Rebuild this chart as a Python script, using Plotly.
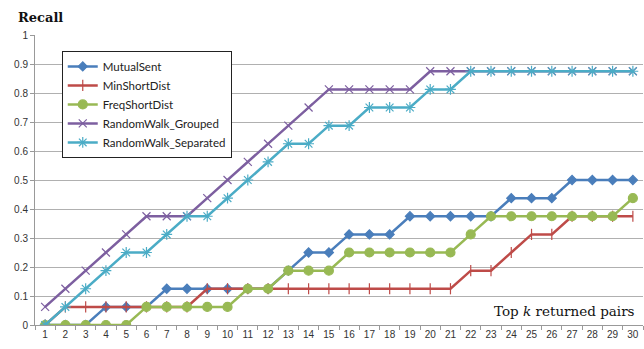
import plotly.graph_objects as go

k_values = list(range(1, 31))
k_labels = [str(k) for k in k_values]

mutual_sent = [0, 0, 0, 0.0625, 0.0625, 0.0625, 0.125, 0.125, 0.125, 0.125,
               0.125, 0.125, 0.1875, 0.25, 0.25, 0.3125, 0.3125, 0.3125, 0.375, 0.375,
               0.375, 0.375, 0.375, 0.4375, 0.4375, 0.4375, 0.5, 0.5, 0.5, 0.5]
min_short_dist = [0, 0.0625, 0.0625, 0.0625, 0.0625, 0.0625, 0.0625, 0.0625, 0.125, 0.125,
                  0.125, 0.125, 0.125, 0.125, 0.125, 0.125, 0.125, 0.125, 0.125, 0.125,
                  0.125, 0.1875, 0.1875, 0.25, 0.3125, 0.3125, 0.375, 0.375, 0.375, 0.375]
freq_short_dist = [0, 0, 0, 0, 0, 0.0625, 0.0625, 0.0625, 0.0625, 0.0625,
                   0.125, 0.125, 0.1875, 0.1875, 0.1875, 0.25, 0.25, 0.25, 0.25, 0.25,
                   0.25, 0.3125, 0.375, 0.375, 0.375, 0.375, 0.375, 0.375, 0.375, 0.4375]
rw_grouped = [0.0625, 0.125, 0.1875, 0.25, 0.3125, 0.375, 0.375, 0.375, 0.4375, 0.5,
              0.5625, 0.625, 0.6875, 0.75, 0.8125, 0.8125, 0.8125, 0.8125, 0.8125, 0.875,
              0.875, 0.875, 0.875, 0.875, 0.875, 0.875, 0.875, 0.875, 0.875, 0.875]
rw_separated = [0, 0.0625, 0.125, 0.1875, 0.25, 0.25, 0.3125, 0.375, 0.375, 0.4375,
                0.5, 0.5625, 0.625, 0.625, 0.6875, 0.6875, 0.75, 0.75, 0.75, 0.8125,
                0.8125, 0.875, 0.875, 0.875, 0.875, 0.875, 0.875, 0.875, 0.875, 0.875]

y_ticks = [0, 0.1, 0.2, 0.3, 0.4, 0.5, 0.6, 0.7, 0.8, 0.9, 1]
y_tick_labels = ["0", "0.1", "0.2", "0.3", "0.4", "0.5", "0.6", "0.7", "0.8", "0.9", "1"]

series = [
    ("MutualSent", mutual_sent, "#4a7ebb", "diamond", 7),
    ("MinShortDist", min_short_dist, "#be4b48", "line-ns-open", 8),
    ("FreqShortDist", freq_short_dist, "#98b954", "circle", 9),
    ("RandomWalk_Grouped", rw_grouped, "#7d5fa0", "x-thin-open", 8),
    ("RandomWalk_Separated", rw_separated, "#4bacc6", "asterisk-open", 9),
]

fig = go.Figure()
for name, vals, color, symbol, size in series:
    fig.add_trace(go.Scatter(
        x=k_labels, y=vals, name=name, mode="lines+markers",
        line=dict(color=color, width=2.5),
        marker=dict(symbol=symbol, size=size, color=color,
                    line=dict(color=color, width=1.2)),
    ))

fig.update_layout(
    width=644, height=349,
    margin=dict(l=35, r=1, t=35, b=24),
    paper_bgcolor="white", plot_bgcolor="white",
    font=dict(family="Liberation Sans", size=10, color="#333333"),
    showlegend=True,
    legend=dict(
        x=0.044, y=0.945, xanchor="left", yanchor="top",
        bgcolor="white", bordercolor="#222222", borderwidth=1,
        font=dict(family="Lato", size=11.5, color="#222222"),
        tracegroupgap=0, itemwidth=30,
    ),
    xaxis=dict(
        type="category", range=[-0.5, 29.5],
        tickson="boundaries", ticks="outside", ticklen=4, tickcolor="#999999",
        tickangle=0,
        showline=True, linecolor="#999999", linewidth=1,
        showgrid=False, zeroline=False,
        tickfont=dict(family="Liberation Sans", size=10, color="#333333"),
    ),
    yaxis=dict(
        range=[0, 1], tickvals=y_ticks, ticktext=y_tick_labels,
        ticks="outside", ticklen=4, tickcolor="#999999",
        showline=True, linecolor="#999999", linewidth=1,
        showgrid=True, gridcolor="#b0b0b0", gridwidth=1,
        zeroline=False,
        tickfont=dict(family="Liberation Sans", size=10, color="#333333"),
    ),
    annotations=[
        dict(text="<b>Recall</b>", xref="paper", yref="paper",
             x=-0.031, y=1.0, yshift=18, xanchor="left", yanchor="middle",
             showarrow=False,
             font=dict(family="DejaVu Serif", size=13, color="#111111")),
        dict(text="Top <i>k</i> returned pairs", xref="paper", yref="paper",
             x=0.99, y=0.05, xanchor="right", yanchor="middle",
             showarrow=False,
             font=dict(family="DejaVu Serif", size=13.5, color="#111111")),
    ],
)

fig.write_html("out.html")
